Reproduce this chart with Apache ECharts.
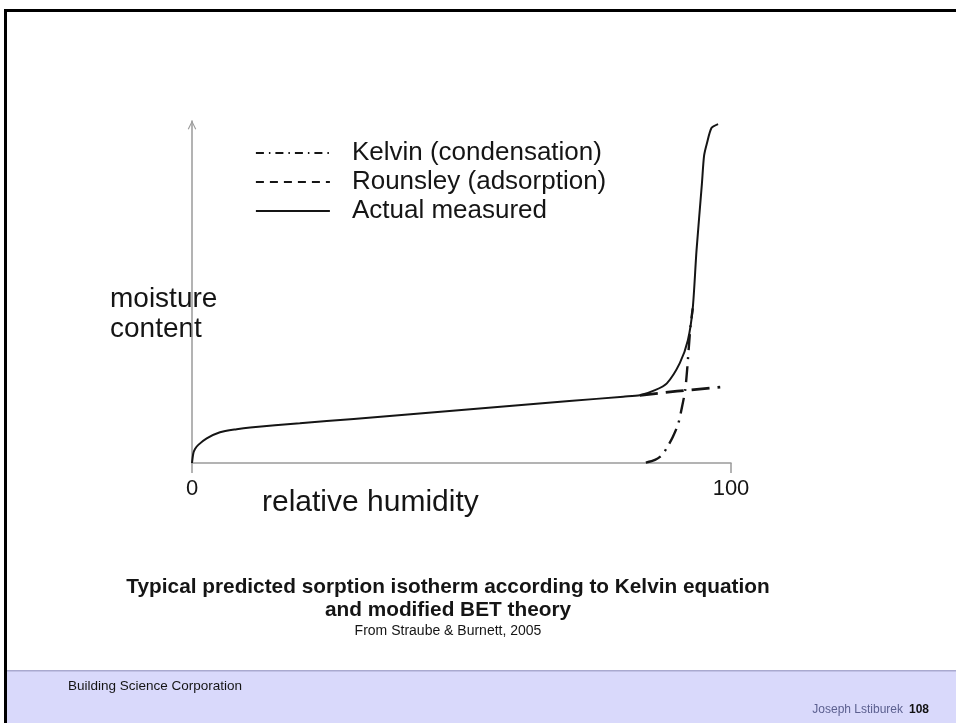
<!DOCTYPE html>
<html>
<head>
<meta charset="utf-8">
<title>Sorption isotherm</title>
<script src="https://cdn.jsdelivr.net/npm/echarts@6/dist/echarts.min.js"></script>
<style>
  html, body { margin: 0; padding: 0; background: #ffffff; }
  #chart { width: 956px; height: 723px; }
</style>
</head>
<body>
<div id="chart"></div>
<script>
// Relative humidity (%) and moisture content (relative units)
const seriesNames = ['Kelvin (condensation)', 'Rounsley (adsorption)', 'Actual measured'];

const rhActual = [0, 0.24, 0.56, 1.17, 2.73, 5.19, 8.29, 10.8, 20, 30, 40, 50, 60, 70, 80,
  83.1, 85.9, 88.1, 90.5, 92.0, 92.9, 93.6, 94.6, 95.0, 95.5, 96.4, 97.6];
const mcActual = [0, 2.8, 4.1, 5.3, 7.2, 9.0, 9.9, 10.4, 11.6, 12.9, 14.2, 15.5, 16.8, 18.1, 19.4,
  19.8, 21.3, 23.3, 29.2, 35.9, 45.2, 62.1, 81.6, 89.8, 93.3, 98.0, 99.1];

const rhRounsley = [83.1, 90, 98.0];
const mcRounsley = [19.8, 21.0, 22.2];

const rhKelvin = [84.2, 85.9, 87.2, 88.3, 89.2, 90.2, 90.9, 91.5, 91.9, 92.2, 92.5, 92.9];
const mcKelvin = [0.1, 0.9, 2.3, 5.0, 7.6, 11.4, 16.3, 21.3, 28.0, 34.4, 40.2, 45.2];

const xTicks = [0, 100];
const yAxisTitle = ['moisture', 'content'];
const xAxisTitle = 'relative humidity';
const captionLines = [
  'Typical predicted sorption isotherm according to Kelvin equation',
  'and modified BET theory'
];
const sourceLine = 'From Straube & Burnett, 2005';
const footerLeft = 'Building Science Corporation';
const footerAuthor = 'Joseph Lstiburek';
const footerPage = '108';

const zip = (xs, ys) => xs.map((x, i) => [x, ys[i]]);

const FONT = '"Liberation Sans", Arial, sans-serif';
const INK = '#151515';
const AXIS = '#9a9a9a';

const chart = echarts.init(document.getElementById('chart'), null, { renderer: 'canvas' });

const hiddenMarker = { color: INK, opacity: 0 };

chart.setOption({
  backgroundColor: '#ffffff',
  animation: false,
  color: [INK, INK, INK],
  grid: { left: 192, right: 225, top: 121, bottom: 260, containLabel: false },
  xAxis: {
    type: 'value',
    min: xTicks[0],
    max: xTicks[xTicks.length - 1],
    interval: xTicks[1] - xTicks[0],
    axisLine: { show: true, lineStyle: { color: AXIS, width: 1.5 } },
    axisTick: { show: true, length: 10, lineStyle: { color: AXIS, width: 1.5 } },
    axisLabel: { show: true, margin: 15, color: INK, fontSize: 22, fontFamily: FONT },
    splitLine: { show: false }
  },
  yAxis: {
    type: 'value',
    min: 0,
    max: 100,
    axisLine: {
      show: true,
      onZero: false,
      lineStyle: { color: AXIS, width: 1.5 },
      symbol: ['none', 'path://M0,10 L5,0 L10,10 L8.8,10.6 L5,2.6 L1.2,10.6 Z'],
      symbolSize: [12, 9],
      symbolOffset: [0, -4]
    },
    axisTick: { show: false },
    axisLabel: { show: false },
    splitLine: { show: false }
  },
  legend: {
    orient: 'vertical',
    left: 250,
    top: 135,
    itemWidth: 74,
    itemHeight: 14,
    itemGap: 3,
    selectedMode: false,
    itemStyle: hiddenMarker,
    textStyle: { color: INK, fontSize: 26, fontFamily: FONT, lineHeight: 26, padding: [0, 0, 0, 17] },
    data: [
      { name: seriesNames[0], itemStyle: hiddenMarker, lineStyle: { type: [8, 5, 1.5, 5], width: 1.8, color: INK } },
      { name: seriesNames[1], itemStyle: hiddenMarker, lineStyle: { type: [8, 6], width: 1.8, color: INK } },
      { name: seriesNames[2], itemStyle: hiddenMarker, lineStyle: { type: 'solid', width: 1.8, color: INK } }
    ]
  },
  series: [
    {
      name: seriesNames[0],
      type: 'line',
      data: zip(rhKelvin, mcKelvin),
      symbol: 'none',
      smooth: 0.25,
      itemStyle: { color: INK },
      lineStyle: { color: INK, width: 2.4, type: [16, 7, 2, 7] },
      z: 2
    },
    {
      name: seriesNames[1],
      type: 'line',
      data: zip(rhRounsley, mcRounsley),
      symbol: 'none',
      itemStyle: { color: INK },
      lineStyle: { color: INK, width: 2.8, type: [18, 8] },
      z: 2
    },
    {
      name: seriesNames[2],
      type: 'line',
      data: zip(rhActual, mcActual),
      symbol: 'none',
      smooth: 0.25,
      itemStyle: { color: INK },
      lineStyle: { color: INK, width: 2, type: 'solid' },
      z: 3
    }
  ],
  graphic: [
    // slide frame
    { type: 'rect', shape: { x: 4, y: 9, width: 952, height: 3 }, style: { fill: '#000' }, silent: true },
    { type: 'rect', shape: { x: 4, y: 9, width: 3, height: 714 }, style: { fill: '#000' }, silent: true },
    // footer band
    { type: 'rect', shape: { x: 7, y: 671, width: 949, height: 52 }, style: { fill: '#d9d9fb' }, silent: true },
    { type: 'rect', shape: { x: 7, y: 670, width: 949, height: 1.5 }, style: { fill: '#a9a9cf' }, silent: true },
    { type: 'text', x: 68, y: 679, style: { text: footerLeft, fill: INK, font: '13.5px ' + FONT } },
    { type: 'text', x: 903, y: 704, style: { text: footerAuthor, fill: '#5c6090', font: '12px ' + FONT, align: 'right' } },
    { type: 'text', x: 909, y: 704, style: { text: footerPage, fill: '#111', font: 'bold 12px ' + FONT, align: 'left' } },
    // axis titles
    { type: 'text', x: 110, y: 284, style: { text: yAxisTitle.join('\n'), fill: INK, font: '28px ' + FONT, lineHeight: 30 } },
    { type: 'text', x: 262, y: 488, style: { text: xAxisTitle, fill: INK, font: '30px ' + FONT } },
    // caption
    { type: 'text', x: 448, y: 576, style: { text: captionLines.join('\n'), fill: INK, font: 'bold 20.8px ' + FONT, lineHeight: 23, align: 'center' } },
    { type: 'text', x: 448, y: 624, style: { text: sourceLine, fill: INK, font: '14px ' + FONT, align: 'center' } }
  ]
});
</script>
</body>
</html>
